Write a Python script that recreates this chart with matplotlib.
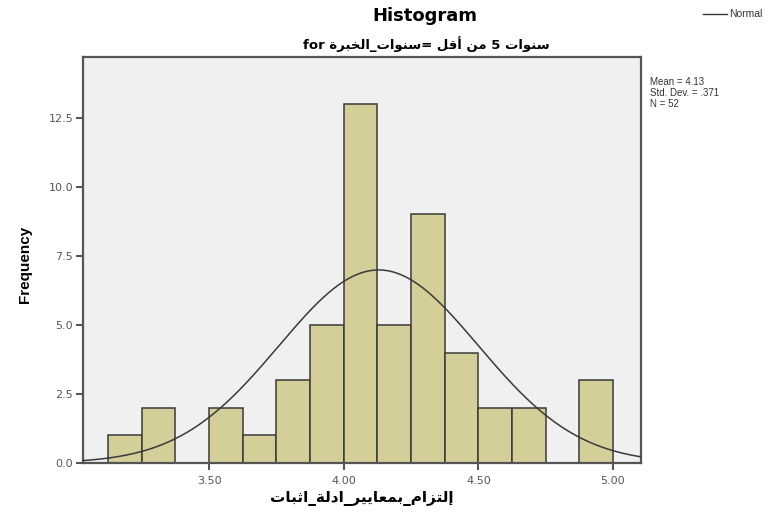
import numpy as np
import matplotlib
matplotlib.use("Agg")
import matplotlib.pyplot as plt
from matplotlib.lines import Line2D

# Histogram data: bin edges start at 3.125, width 0.125
bin_start = 3.125
bin_width = 0.125
counts = [1, 2, 0, 2, 1, 3, 5, 13, 5, 9, 4, 2, 2, 0, 3]

mean_val = 4.13
std_val = 0.371
n_val = 52

x_ticks = [3.50, 4.00, 4.50, 5.00]
x_tick_labels = ["3.50", "4.00", "4.50", "5.00"]
y_ticks = [0.0, 2.5, 5.0, 7.5, 10.0, 12.5]
y_tick_labels = ["0.0", "2.5", "5.0", "7.5", "10.0", "12.5"]

# --- minimal Arabic shaping (presentation forms, drawn in visual order) ---
FORMS = {
    'ا': (0xFE8D, 0xFE8E, None, None),
    'أ': (0xFE83, 0xFE84, None, None),
    'إ': (0xFE87, 0xFE88, None, None),
    'ب': (0xFE8F, 0xFE90, 0xFE91, 0xFE92),
    'ة': (0xFE93, 0xFE94, None, None),
    'ت': (0xFE95, 0xFE96, 0xFE97, 0xFE98),
    'ث': (0xFE99, 0xFE9A, 0xFE9B, 0xFE9C),
    'خ': (0xFEA5, 0xFEA6, 0xFEA7, 0xFEA8),
    'د': (0xFEA9, 0xFEAA, None, None),
    'ر': (0xFEAD, 0xFEAE, None, None),
    'ز': (0xFEAF, 0xFEB0, None, None),
    'س': (0xFEB1, 0xFEB2, 0xFEB3, 0xFEB4),
    'ع': (0xFEC9, 0xFECA, 0xFECB, 0xFECC),
    'ق': (0xFED5, 0xFED6, 0xFED7, 0xFED8),
    'ل': (0xFEDD, 0xFEDE, 0xFEDF, 0xFEE0),
    'م': (0xFEE1, 0xFEE2, 0xFEE3, 0xFEE4),
    'ن': (0xFEE5, 0xFEE6, 0xFEE7, 0xFEE8),
    'و': (0xFEED, 0xFEEE, None, None),
    'ي': (0xFEF1, 0xFEF2, 0xFEF3, 0xFEF4),
}
LAM_ALEF = {'ا': (0xFEFB, 0xFEFC), 'أ': (0xFEF7, 0xFEF8), 'إ': (0xFEF9, 0xFEFA)}


def _joins_forward(c):
    return c in FORMS and FORMS[c][2] is not None


def shape(word):
    out = []
    i, n = 0, len(word)
    prev_joins = False
    while i < n:
        c = word[i]
        if c not in FORMS:
            out.append(c)
            prev_joins = False
            i += 1
            continue
        if c == 'ل' and i + 1 < n and word[i + 1] in LAM_ALEF:
            iso, fin = LAM_ALEF[word[i + 1]]
            out.append(chr(fin if prev_joins else iso))
            prev_joins = False
            i += 2
            continue
        nxt = word[i + 1] if i + 1 < n else ''
        next_ok = (nxt in FORMS) and _joins_forward(c)
        iso, fin, ini, med = FORMS[c]
        if prev_joins and next_ok:
            g = med
        elif prev_joins:
            g = fin
        elif next_ok:
            g = ini
        else:
            g = iso
        out.append(chr(g))
        prev_joins = _joins_forward(c)
        i += 1
    return ''.join(reversed(out))


def visual(segments):
    parts = []
    for s in segments:
        if any(ch in FORMS for ch in s):
            parts.append(shape(s))
        else:
            parts.append(s)
    return ''.join(parts)


# segments listed left to right as drawn
subtitle = visual(["for ", "سنوات_الخبرة", "= ", "أقل", " ", "من", " 5 ", "سنوات"])
x_label = visual(["إلتزام_بمعايير_ادلة_اثبات"])

W, H = 779, 520
fig = plt.figure(figsize=(W / 100, H / 100), dpi=100, facecolor="white")
ax = fig.add_axes([83 / W, 1 - 463 / H, (641 - 83) / W, (463 - 57) / H])
ax.set_facecolor("#f0f0f0")

left_edges = bin_start + bin_width * np.arange(len(counts))
ax.bar(left_edges, counts, width=bin_width, align="edge",
       color="#d4cf98", edgecolor="#3a3a3a", linewidth=1.1, zorder=2)

xs = np.linspace(3.03, 5.11, 400)
pdf = n_val * bin_width / (std_val * np.sqrt(2 * np.pi)) * np.exp(-0.5 * ((xs - mean_val) / std_val) ** 2)
ax.plot(xs, pdf, color="#3a3a3a", linewidth=1.1, zorder=3)

ax.set_xlim(3.032, 5.104)
ax.set_ylim(0, 14.7)
ax.set_xticks(x_ticks)
ax.set_xticklabels(x_tick_labels)
ax.set_yticks(y_ticks)
ax.set_yticklabels(y_tick_labels)
ax.tick_params(axis="both", direction="out", length=5, width=1.2, color="#333333",
               labelcolor="#555555", labelsize=8)
ax.tick_params(axis="x", pad=4)
ax.tick_params(axis="y", pad=2)
for sp in ax.spines.values():
    sp.set_color("#555555")
    sp.set_linewidth(1.6)

ax.set_ylabel("Frequency", fontsize=11, fontweight="bold", family="Liberation Sans")
ax.yaxis.set_label_coords(-0.092, 0.49)
ax.set_xlabel(x_label, fontsize=11, fontweight="bold", family="DejaVu Sans")
ax.xaxis.set_label_coords(0.5, -0.068)

fig.text(425 / W, 1 - 16 / H, "Histogram", ha="center", va="center",
         fontsize=13, fontweight="bold", family="DejaVu Sans")
fig.text(426 / W, 1 - 44 / H, subtitle, ha="center", va="center",
         fontsize=9.5, fontweight="bold", family="DejaVu Sans")

fig.text(650 / W, 1 - 93 / H, "Mean = 4.13\nStd. Dev. = .371\nN = 52",
         ha="left", va="center", fontsize=7, color="#333333",
         family="Liberation Sans", linespacing=1.1)

fig.add_artist(Line2D([703 / W, 727 / W], [1 - 14 / H, 1 - 14 / H],
                      color="#333333", linewidth=1.0))
fig.text(729 / W, 1 - 14 / H, "Normal", ha="left", va="center",
         fontsize=7.5, color="#333333", family="Liberation Sans")

fig.savefig("out.png", dpi=100, facecolor="white")
